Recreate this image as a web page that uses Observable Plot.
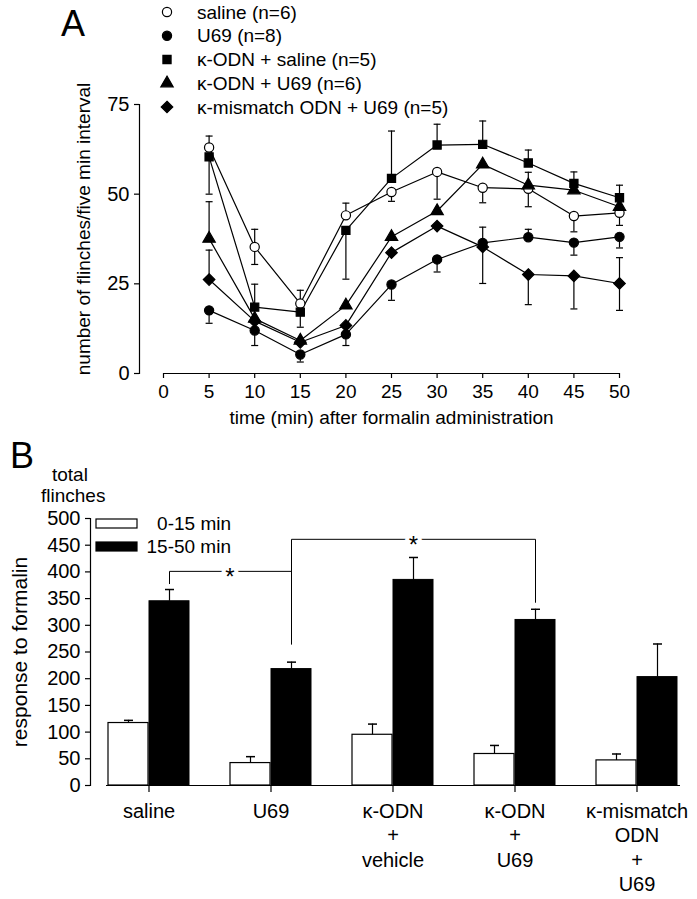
<!DOCTYPE html>
<html><head><meta charset="utf-8">
<script src="https://cdn.jsdelivr.net/npm/d3@7"></script>
<script src="https://cdn.jsdelivr.net/npm/@observablehq/plot@0.6"></script>
<style>
body{margin:0;background:#fff;}
#root{position:relative;width:697px;height:899px;font-family:"Liberation Sans",Arial,sans-serif;color:#000;overflow:hidden;background:#fff}
.abs{position:absolute;white-space:nowrap;line-height:1}
.abs svg, #root > svg{display:block}
</style></head><body><div id="root"></div>
<script>
// ---------- Panel A data ----------
const times = [5, 10, 15, 20, 25, 30, 35, 40, 45, 50];
const xTicksA = [0, 5, 10, 15, 20, 25, 30, 35, 40, 45, 50];
const yTicksA = [0, 25, 50, 75];
const seriesNames = ["saline (n=6)", "U69 (n=8)", "κ-ODN + saline (n=5)", "κ-ODN + U69 (n=6)", "κ-mismatch ODN + U69 (n=5)"];
const seriesSymbols = ["circle", "circle", "square", "triangle", "diamond2"];
const seriesFills = ["white", "black", "black", "black", "black"];

const salineVals = [63.0, 35.3, 19.5, 44.1, 50.6, 56.2, 51.8, 51.5, 43.9, 44.8];
const salineUp   = [3.2, 4.9, 3.7, 3.4, 0, 0, 0, 4.6, 0, 0];
const salineDown = [0, 4.9, 0, 0, 2.6, 7.6, 4.2, 5.0, 4.4, 3.5];

const u69Vals = [17.6, 12.0, 5.3, 10.9, 24.8, 31.8, 36.4, 38.0, 36.5, 38.1];
const u69Up   = [0, 0, 0, 0, 0, 0, 0, 2.2, 0, 0];
const u69Down = [3.6, 4.2, 2.1, 3.1, 4.4, 3.5, 0, 0, 3.5, 3.1];

const odnSalVals = [60.4, 18.5, 17.1, 39.9, 54.4, 63.7, 63.9, 58.7, 53.0, 49.0];
const odnSalUp   = [0, 6.4, 0, 0, 13.2, 5.8, 6.5, 3.6, 3.2, 3.5];
const odnSalDown = [10.4, 0, 4.2, 13.6, 0, 0, 0, 0, 0, 0];

const odnU69Vals = [37.6, 15.3, 9.2, 19.0, 38.1, 45.3, 58.3, 52.5, 51.1, 46.5];
const odnU69Up   = [10.3, 0, 0, 0, 0, 0, 0, 0, 0, 0];
const odnU69Down = [0, 0, 0, 0, 0, 0, 0, 0, 0, 0];

const mmVals = [26.2, 14.6, 8.7, 13.4, 33.7, 41.1, 35.3, 27.6, 27.2, 25.1];
const mmUp   = [8.2, 0, 0, 0, 0, 0, 5.5, 0, 0, 7.2];
const mmDown = [0, 0, 0, 0, 0, 0, 10.2, 8.4, 9.2, 7.5];

// ---------- Panel B data ----------
const groups = ["saline", "U69", "κ-ODN + vehicle", "κ-ODN + U69", "κ-mismatch ODN + U69"];
const groupLabels = ["saline", "U69", "κ-ODN\n+\nvehicle", "κ-ODN\n+\nU69", "κ-mismatch\nODN\n+\nU69"];
const periods = ["0-15 min", "15-50 min"];
const earlyVals = [117, 42, 95, 59, 47];
const earlyErr  = [5, 12, 20, 16, 12];
const lateVals  = [345, 218, 385, 310, 203];
const lateErr   = [22, 13, 42, 20, 62];
const yTicksB = [0, 50, 100, 150, 200, 250, 300, 350, 400, 450, 500];
const bracket1Groups = ["saline", "saline", "U69", "U69"];
const bracket1Vals = [378, 401, 401, 265];
const bracket2Groups = ["U69", "U69", "κ-ODN + U69", "κ-ODN + U69"];
const bracket2Vals = [265, 461, 461, 343];

// ---------- helpers ----------
const FONT = '"Liberation Sans", Arial, sans-serif';
const capSymbol = {draw(ctx, size) { const w = Math.sqrt(size / Math.PI); ctx.moveTo(-w, 0); ctx.lineTo(w, 0); }};
const root = document.getElementById("root");
function addText(txt, left, top, size, extra = "") {
  const d = document.createElement("div");
  d.className = "abs";
  d.style.cssText = `left:${left}px;top:${top}px;font-size:${size}px;${extra}`;
  d.textContent = txt;
  root.appendChild(d);
  return d;
}

// ---------- Panel A ----------
const seriesData = [
  [salineVals, salineUp, salineDown],
  [u69Vals, u69Up, u69Down],
  [odnSalVals, odnSalUp, odnSalDown],
  [odnU69Vals, odnU69Up, odnU69Down],
  [mmVals, mmUp, mmDown]
];
const rowsA = [];
seriesData.forEach(([vals, up, down], si) => {
  times.forEach((t, i) => rowsA.push({series: seriesNames[si], si, t, v: vals[i], up: up[i], down: down[i]}));
});
const ups = rowsA.filter(d => d.up > 0);
const downs = rowsA.filter(d => d.down > 0);

const marksA = [
  Plot.frame({anchor: "left", stroke: "black", strokeWidth: 1.2}),
  Plot.ruleY([0], {insetLeft: 24, stroke: "black", strokeWidth: 1.2}),
  Plot.axisY({ticks: yTicksA, tickSize: 5, tickPadding: 5, fontSize: 20, label: null, strokeWidth: 1.2}),
  Plot.axisX({ticks: xTicksA, tickSize: 5, tickPadding: 6, fontSize: 19, label: null, strokeWidth: 1.2}),
  Plot.ruleX(ups, {x: "t", y1: "v", y2: d => d.v + d.up, stroke: "black", strokeWidth: 1.2}),
  Plot.ruleX(downs, {x: "t", y1: "v", y2: d => d.v - d.down, stroke: "black", strokeWidth: 1.2}),
  Plot.dot(ups, {x: "t", y: d => d.v + d.up, symbol: capSymbol, r: 3.5, stroke: "black", strokeWidth: 1.2, fill: "none"}),
  Plot.dot(downs, {x: "t", y: d => d.v - d.down, symbol: capSymbol, r: 3.5, stroke: "black", strokeWidth: 1.2, fill: "none"}),
  Plot.line(rowsA, {x: "t", y: "v", z: "series", stroke: "black", strokeWidth: 1.2}),
  ...seriesNames.map((name, si) => Plot.dot(rowsA.filter(d => d.si === si), {
    x: "t", y: "v", symbol: seriesSymbols[si], r: si === 4 ? 5.2 : 4.6,
    fill: seriesFills[si], stroke: "black", strokeWidth: 1.2
  })),
  Plot.text(["time (min) after formalin administration"], {frameAnchor: "bottom", textAnchor: "middle", dx: 12, dy: 44, fontSize: 19, lineAnchor: "middle"}),
  Plot.text(["number of flinches/five min interval"], {frameAnchor: "left", textAnchor: "middle", dx: -56, dy: -10, rotate: -90, fontSize: 19, lineAnchor: "middle"})
];
const chartA = Plot.plot({
  width: 697, height: 430,
  marginLeft: 139, marginRight: 78, marginTop: 104, marginBottom: 57,
  x: {domain: [0, 50], insetLeft: 24},
  y: {domain: [0, 75]},
  style: {fontFamily: FONT, background: "transparent", overflow: "visible", color: "black"},
  marks: marksA
});
chartA.style.position = "absolute"; chartA.style.left = "0px"; chartA.style.top = "0px";
root.appendChild(chartA);

addText("A", 61, 6, 36);
// legend A
const legA = document.createElementNS("http://www.w3.org/2000/svg", "svg");
legA.setAttribute("width", 300); legA.setAttribute("height", 125);
legA.style.cssText = "position:absolute;left:150px;top:0px;overflow:visible";
const symMap = {circle: d3.symbolCircle, square: d3.symbolSquare, triangle: d3.symbolTriangle, diamond2: d3.symbolDiamond2};
seriesNames.forEach((name, i) => {
  const cy = 12 + 23.75 * i;
  const p = document.createElementNS("http://www.w3.org/2000/svg", "path");
  const r = i === 4 ? 5.2 : 4.6;
  p.setAttribute("d", d3.symbol(symMap[seriesSymbols[i]], Math.PI * r * r)());
  p.setAttribute("transform", `translate(17,${cy})`);
  p.setAttribute("fill", seriesFills[i]); p.setAttribute("stroke", "black"); p.setAttribute("stroke-width", 1.2);
  legA.appendChild(p);
  const t = document.createElementNS("http://www.w3.org/2000/svg", "text");
  t.setAttribute("x", 47); t.setAttribute("y", cy); t.setAttribute("dy", "0.35em");
  t.setAttribute("font-size", 19); t.setAttribute("font-family", FONT);
  t.textContent = name;
  legA.appendChild(t);
});
root.appendChild(legA);

// ---------- Panel B ----------
const barsB = groups.map((g, i) => ({g, early: earlyVals[i], eErr: earlyErr[i], late: lateVals[i], lErr: lateErr[i]}));
const br1 = bracket1Groups.map((g, i) => ({g, v: bracket1Vals[i]}));
const br2 = bracket2Groups.map((g, i) => ({g, v: bracket2Vals[i]}));
const half = 20.5;
const marksB = [
  Plot.frame({anchor: "left", stroke: "black", strokeWidth: 1.2}),
  Plot.axisY({ticks: yTicksB, tickSize: 5, tickPadding: 5, fontSize: 20, label: null, strokeWidth: 1.2}),
  Plot.barY(barsB, {x: "g", y: "early", insetRight: 41, fill: "white", stroke: "black", strokeWidth: 1.2}),
  Plot.barY(barsB, {x: "g", y: "late", insetLeft: 41, fill: "black", stroke: "black", strokeWidth: 1}),
  Plot.ruleX(barsB, {x: "g", y1: "early", y2: d => d.early + d.eErr, dx: -half, stroke: "black", strokeWidth: 1.2}),
  Plot.ruleX(barsB, {x: "g", y1: "late", y2: d => d.late + d.lErr, dx: half, stroke: "black", strokeWidth: 1.2}),
  Plot.dot(barsB, {x: "g", y: d => d.early + d.eErr, dx: -half, symbol: capSymbol, r: 4.5, stroke: "black", strokeWidth: 1.5, fill: "none"}),
  Plot.dot(barsB, {x: "g", y: d => d.late + d.lErr, dx: half, symbol: capSymbol, r: 4.5, stroke: "black", strokeWidth: 1.5, fill: "none"}),
  Plot.ruleY([0], {insetLeft: 16, stroke: "black", strokeWidth: 1.2}),
  Plot.axisX({tickSize: 7, tickPadding: 8, fontSize: 20, lineHeight: 1.22, label: null, strokeWidth: 1.2,
    tickFormat: g => groupLabels[groups.indexOf(g)]}),
  Plot.line(br1, {x: "g", y: "v", dx: half, stroke: "black", strokeWidth: 1}),
  Plot.line(br2, {x: "g", y: "v", dx: half, stroke: "black", strokeWidth: 1}),
  Plot.text(["*"], {x: () => "U69", y: () => 401, dx: half - 61.5, dy: 6, fontSize: 24, stroke: "white", strokeWidth: 8, fill: "black"}),
  Plot.text(["*"], {x: () => "κ-ODN + vehicle", y: () => 461, dx: half, dy: 6, fontSize: 24, stroke: "white", strokeWidth: 8, fill: "black"}),
  Plot.text(["response to formalin"], {frameAnchor: "left", textAnchor: "middle", dx: -70, rotate: -90, fontSize: 21, lineAnchor: "middle"})
];
const chartB = Plot.plot({
  width: 697, height: 459,
  marginLeft: 90, marginRight: 17, marginTop: 78, marginBottom: 114,
  x: {domain: groups, type: "band", paddingInner: 1 / 3, paddingOuter: 0, insetLeft: 16},
  y: {domain: [0, 500]},
  style: {fontFamily: FONT, background: "transparent", overflow: "visible", color: "black"},
  marks: marksB
});
chartB.style.position = "absolute"; chartB.style.left = "0px"; chartB.style.top = "440px";
root.appendChild(chartB);

addText("B", 10, 438, 36);
addText("total", 52, 465, 19);
addText("flinches", 41, 486, 19);
// legend B
const legB = document.createElementNS("http://www.w3.org/2000/svg", "svg");
legB.setAttribute("width", 160); legB.setAttribute("height", 50);
legB.style.cssText = "position:absolute;left:90px;top:515px;overflow:visible";
const legRows = [{fill: "white", y: 8.5, label: periods[0]}, {fill: "black", y: 31.5, label: periods[1]}];
legRows.forEach(r => {
  const rect = document.createElementNS("http://www.w3.org/2000/svg", "rect");
  rect.setAttribute("x", 6); rect.setAttribute("y", r.y - 4.5); rect.setAttribute("width", 41); rect.setAttribute("height", 9);
  rect.setAttribute("fill", r.fill); rect.setAttribute("stroke", "black"); rect.setAttribute("stroke-width", 1.2);
  legB.appendChild(rect);
  const t = document.createElementNS("http://www.w3.org/2000/svg", "text");
  t.setAttribute("x", 141); t.setAttribute("y", r.y); t.setAttribute("dy", "0.35em");
  t.setAttribute("text-anchor", "end");
  t.setAttribute("font-size", 19); t.setAttribute("font-family", FONT);
  t.textContent = r.label;
  legB.appendChild(t);
});
root.appendChild(legB);
</script></body></html>
